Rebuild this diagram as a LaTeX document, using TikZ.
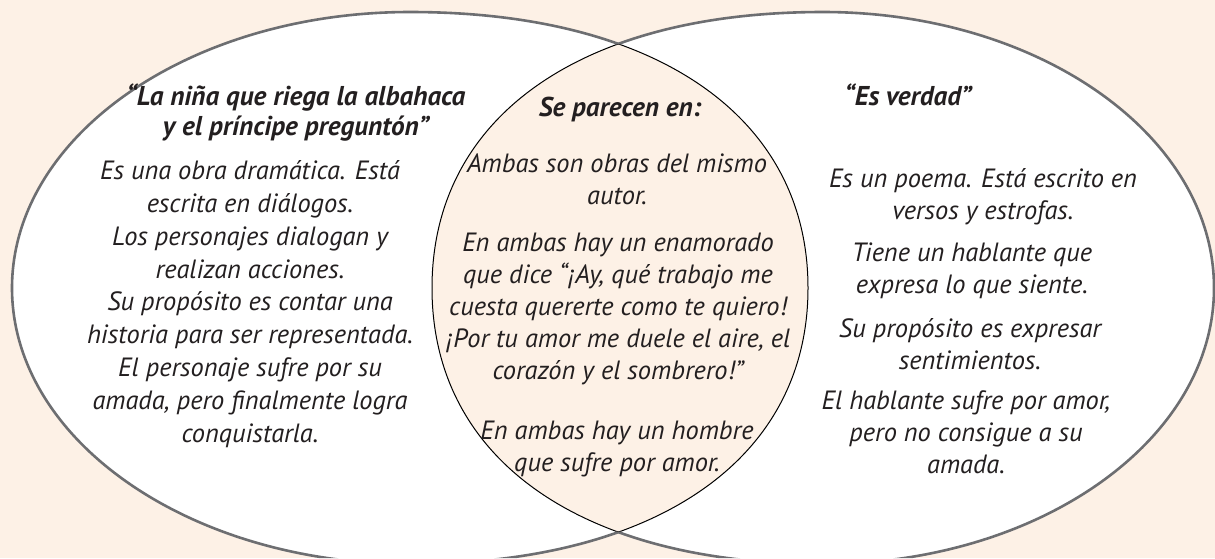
\documentclass[tikz,border=0pt]{standalone}
\usepackage{fontspec}
\setmainfont{PT Sans}
\definecolor{peach}{HTML}{FDF1E6}
\definecolor{rimgray}{HTML}{6D6E71}
\definecolor{ink}{HTML}{231F20}

% an oval: centre #1,#2, radii #3,#4, roundness of left side #5, of right side #6
\newcommand{\vennset}[6]{({#1+#3},#2)
	.. controls ({#1+#3},{#2-#6*#4}) and ({#1+#6*#3},{#2-#4}) .. (#1,{#2-#4})
	.. controls ({#1-#5*#3},{#2-#4}) and ({#1-#3},{#2-#5*#4}) .. ({#1-#3},#2)
	.. controls ({#1-#3},{#2+#5*#4}) and ({#1-#5*#3},{#2+#4}) .. (#1,{#2+#4})
	.. controls ({#1+#6*#3},{#2+#4}) and ({#1+#3},{#2+#6*#4}) .. ({#1+#3},#2) -- cycle}
\newcommand{\playset}{\vennset{410}{288}{398}{276}{0.5523}{0.62}}
\newcommand{\poemset}{\vennset{823}{288}{391}{276}{0.62}{0.5523}}

\begin{document}
\begin{tikzpicture}
	[x=0.5pt,y=-0.5pt,
		rim/.style={draw=rimgray,line width=1.3pt},
		lensrim/.style={draw=black,line width=0.5pt},
		title/.style={font=\fontsize{13.6}{15}\selectfont\bfseries\itshape,text=ink,
		align=center,inner sep=0pt},
		body/.style={font=\fontsize{13.2}{16}\selectfont\itshape,text=ink,align=center,
		inner sep=0pt}]
	\useasboundingbox (0,0) rectangle (1215,558);
	\fill[peach] (0,0) rectangle (1215,558);

	% the two sets
	\fill[white] \playset;
	\fill[white] \poemset;
	\begin{scope}
		\clip \playset;
		\fill[peach] \poemset;
		\draw[lensrim] \poemset;
	\end{scope}
	\begin{scope}
		\clip \poemset;
		\draw[lensrim] \playset;
	\end{scope}
	\begin{scope}[even odd rule]
		\clip (0,0) rectangle (1215,558) \poemset;
		\draw[rim] \playset;
	\end{scope}
	\begin{scope}[even odd rule]
		\clip (0,0) rectangle (1215,558) \playset;
		\draw[rim] \poemset;
	\end{scope}

	% left: the play
	\node (ltitle) at (296,113) [title] {“La niña que riega la albahaca\\y el príncipe preguntón”};
	\node (ltext) at (250,304) [body,font=\fontsize{13.2}{16.4}\selectfont\itshape]
		{Es una obra dramática. Está\\escrita en diálogos.\\Los personajes dialogan y\\
		realizan acciones.\\Su propósito es contar una\\historia para ser representada.\\
		El personaje sufre por su\\amada, pero finalmente logra\\conquistarla.};

	% middle: what they share
	\node (mtitle) at (620,110) [title] {Se parecen en:};
	\node (mone) at (617,179) [body] {Ambas son obras del mismo\\autor.};
	\node (mtwo) at (618,309) [body] {En ambas hay un enamorado\\que dice “¡Ay, qué trabajo me\\cuesta quererte como te quiero!\\¡Por tu amor me duele el aire, el\\corazón y el sombrero!”};
	\node (mthree) at (617,449) [body] {En ambas hay un hombre\\que sufre por amor.};

	% right: the poem
	\node (rtitle) at (908,95) [title] {“Es verdad”};
	\node (rone) at (983,197) [body] {Es un poema. Está escrito en\\versos y estrofas.};
	\node (rtwo) at (972,271) [body] {Tiene un hablante que\\expresa lo que siente.};
	\node (rthree) at (970,344) [body] {Su propósito es expresar\\sentimientos.};
	\node (rfour) at (966,432) [body] {El hablante sufre por amor,\\pero no consigue a su\\amada.};
\end{tikzpicture}
\end{document}
